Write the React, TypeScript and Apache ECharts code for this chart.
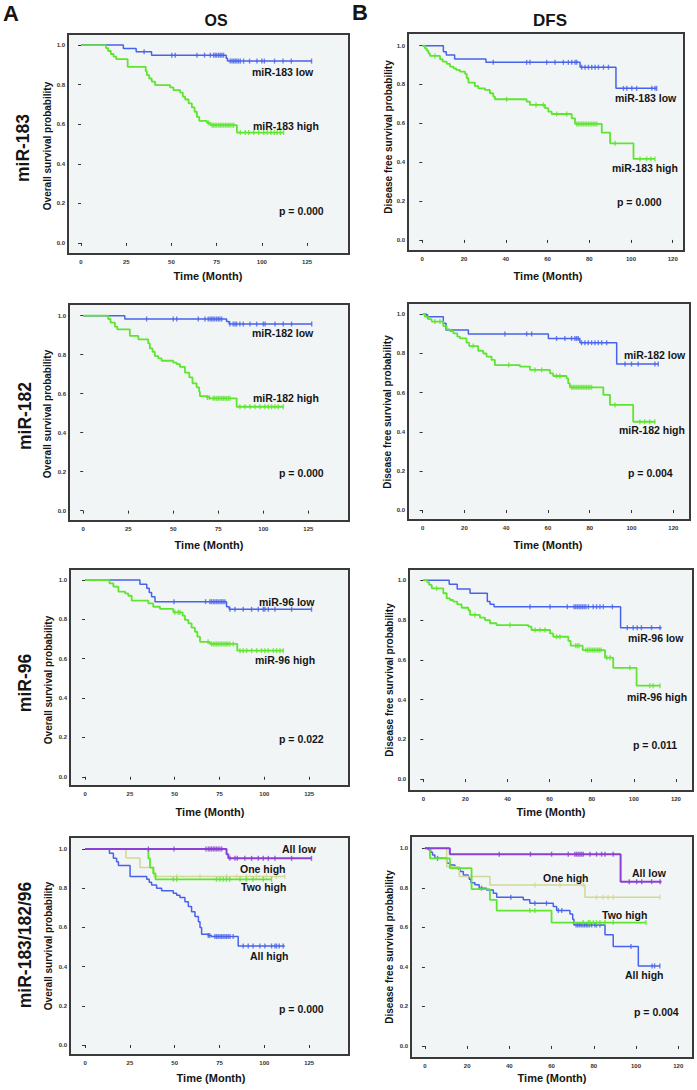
import React, { useEffect, useRef } from "react";
import * as echarts from "echarts";

// ---------- tick labels ----------
const OS_TICKS = [0, 25, 50, 75, 100, 125];
const DFS_TICKS = [0, 20, 40, 60, 80, 100, 120];
const Y_TICKS = [0, 0.2, 0.4, 0.6, 0.8, 1.0];

// ---------- A1: OS miR-183 ----------
const os183LowSteps = [[0, 1], [23.4, 0.983], [30.5, 0.966], [39.0, 0.949], [80.3, 0.934], [81.0, 0.919]];
const os183LowEnd = 127.5;
const os183LowCensor = [34.9, 50.2, 52.1, 64.1, 68.3, 71.5, 73.3, 74.2, 75.1, 76.1, 77, 77.9, 78.8, 82.5, 83.5, 84.4, 85.3, 86.2, 87.1, 88.1, 89.9, 93.2, 97.3, 100, 101.4, 107, 111.7, 116.3, 127.5];
const os183HighSteps = [[0, 1], [13.8, 0.985], [15, 0.97], [16.5, 0.955], [18, 0.942], [19.5, 0.929], [25.8, 0.89], [35.8, 0.868], [36.4, 0.848], [37.7, 0.831], [39.1, 0.815], [41, 0.798], [49.3, 0.786], [51.1, 0.772], [54.8, 0.76], [56.3, 0.739], [57.6, 0.725], [59.5, 0.705], [61.3, 0.685], [62.8, 0.663], [64.1, 0.637], [65.4, 0.617], [69.6, 0.607], [71.5, 0.595], [86.2, 0.558]];
const os183HighEnd = 112;
const os183HighCensor = [70.5, 72.5, 73.3, 74.2, 75.1, 76.1, 77, 77.9, 78.8, 79.8, 80.7, 81.6, 82.5, 83.5, 84.4, 88.1, 90.8, 92.7, 95.5, 98.2, 101, 103, 105.1, 107, 108.5, 110.2, 112];

// ---------- B1: DFS miR-183 ----------
const dfs183LowSteps = [[0, 1], [10.1, 0.969], [11.5, 0.952], [15.5, 0.931], [30.5, 0.914], [75.6, 0.889], [92.8, 0.78]];
const dfs183LowEnd = 112.3;
const dfs183LowCensor = [34, 50, 51.6, 59.6, 63.6, 67.6, 70, 71.6, 73.2, 74, 76.4, 78, 79.6, 81.2, 82.8, 84.4, 86.8, 89.2, 96.4, 98, 100.4, 102.7, 110, 111.5, 112.3];
const dfs183HighSteps = [[0, 1], [1.3, 0.986], [2.1, 0.974], [2.9, 0.96], [3.7, 0.947], [8.5, 0.93], [9.8, 0.918], [11.7, 0.906], [13.3, 0.892], [14.9, 0.883], [16.2, 0.875], [18, 0.866], [20.5, 0.855], [21.3, 0.832], [22.1, 0.81], [25.2, 0.792], [26.8, 0.78], [30, 0.772], [32.4, 0.755], [34, 0.738], [34.8, 0.724], [50, 0.712], [51.6, 0.695], [58.8, 0.678], [60.4, 0.66], [62, 0.648], [71.6, 0.626], [73.2, 0.597], [86, 0.552], [90, 0.497], [101.2, 0.417]];
const dfs183HighEnd = 111.5;
const dfs183HighCensor = [6, 40.4, 54.5, 58, 64.4, 69.2, 74, 74.8, 75.6, 76.4, 77.2, 78, 78.8, 79.6, 80.4, 81.2, 82, 82.8, 83.6, 92.4, 104.3, 107.5, 109.5, 111.5];

// ---------- A2: OS miR-182 ----------
const os182LowSteps = [[0, 1], [23.1, 0.983], [79.6, 0.97], [81, 0.957]];
const os182LowEnd = 126.9;
const os182LowCensor = [35.2, 50, 51.9, 63.9, 67.6, 69.4, 70.4, 71.3, 72.2, 73.1, 74.1, 75, 75.9, 76.9, 81.5, 83.3, 84.3, 85.2, 87, 88.9, 92.6, 96.3, 100, 101, 106.5, 111.1, 115.7, 126.9];
const os182HighSteps = [[0, 1], [13.9, 0.983], [15.2, 0.964], [17.6, 0.944], [18.9, 0.93], [25.9, 0.896], [30.6, 0.879], [36.1, 0.858], [37, 0.832], [38.5, 0.815], [39.8, 0.793], [41.7, 0.781], [43.5, 0.769], [50, 0.759], [51.9, 0.752], [53.7, 0.738], [56.5, 0.708], [58.9, 0.684], [60.7, 0.653], [63, 0.632], [64.4, 0.61], [64.8, 0.588], [68.5, 0.581], [70.4, 0.576], [85.2, 0.533]];
const os182HighEnd = 111.1;
const os182HighCensor = [68.9, 70, 72.2, 73.1, 74.1, 75, 75.9, 76.9, 77.8, 78.7, 79.6, 80.6, 81.5, 87, 89.8, 92.6, 95.4, 98.1, 100.9, 102.8, 104.6, 106.5, 108.3, 111.1];

// ---------- B2: DFS miR-182 ----------
const dfs182LowSteps = [[0, 1], [2, 0.988], [9.9, 0.954], [11.2, 0.92], [21.9, 0.9], [60.2, 0.877], [75.3, 0.855], [92.9, 0.746]];
const dfs182LowEnd = 112.8;
const dfs182LowCensor = [2.4, 39.4, 49.8, 52.2, 64.1, 68.1, 71.3, 72.9, 73.7, 74.5, 76.1, 77.7, 79.3, 80.9, 82.5, 84.1, 85.7, 88.1, 96.9, 100, 103.2, 111.2, 112.8];
const dfs182HighSteps = [[0, 1], [1.1, 0.988], [2.7, 0.976], [4.3, 0.963], [9.9, 0.94], [11.5, 0.923], [13.1, 0.915], [14.7, 0.903], [16.6, 0.886], [17.9, 0.877], [21, 0.855], [22.3, 0.838], [26.6, 0.814], [29, 0.8], [30.6, 0.784], [33, 0.767], [34.6, 0.741], [46.6, 0.733], [51.4, 0.716], [61, 0.698], [62.5, 0.685], [68.9, 0.673], [69.7, 0.647], [70.5, 0.627], [86.5, 0.588], [89.7, 0.537], [100.8, 0.451]];
const dfs182HighEnd = 111.2;
const dfs182HighCensor = [5.9, 8.3, 24.2, 41.2, 53.8, 57, 64.1, 65.7, 71.3, 72.1, 72.9, 73.7, 74.5, 75.3, 76.1, 76.9, 77.7, 78.5, 79.3, 80.1, 80.9, 92.1, 104, 106.3, 108.7, 111.2];

// ---------- A3: OS miR-96 ----------
const os96LowSteps = [[0, 1], [30.6, 0.978], [34.4, 0.958], [35.8, 0.937], [37.1, 0.915], [39, 0.89], [78.9, 0.864], [80.4, 0.851]];
const os96LowEnd = 126.3;
const os96LowCensor = [49.6, 67.2, 69.6, 70.5, 71.5, 72.4, 73.3, 74.2, 75.2, 76.1, 77, 78, 80.8, 83.6, 88.2, 92.9, 96.6, 99.4, 100.3, 102.2, 105.9, 115.2, 126.3];
const os96HighSteps = [[0, 1], [13.6, 0.983], [15.8, 0.966], [18.6, 0.941], [22.3, 0.932], [24.1, 0.92], [26, 0.895], [35.3, 0.881], [38, 0.864], [41.8, 0.853], [49.2, 0.836], [54.4, 0.819], [55.7, 0.797], [57.6, 0.78], [59.4, 0.758], [61.3, 0.737], [62.6, 0.712], [64.1, 0.686], [69.6, 0.675], [84.9, 0.641]];
const os96HighEnd = 110.5;
const os96HighCensor = [50.1, 52, 52.9, 68.6, 70.5, 71.5, 72.4, 73.3, 74.2, 75.2, 76.1, 77, 78, 78.9, 79.8, 80.8, 82.6, 86.4, 88.2, 90.1, 92.9, 95.7, 98.4, 100.3, 102.2, 105, 106.8, 108.7, 110.5];

// ---------- B3: DFS miR-96 ----------
const dfs96LowSteps = [[0, 1], [12.3, 0.98], [16.1, 0.956], [22.2, 0.935], [30.4, 0.893], [31.7, 0.88], [33.6, 0.867], [93.7, 0.762]];
const dfs96LowEnd = 113.2;
const dfs96LowCensor = [50.7, 60.2, 68.4, 71.6, 72.4, 73.2, 74, 74.8, 75.6, 76.4, 77.2, 78.4, 80.7, 82.3, 83.9, 85.5, 89.8, 96.9, 99.7, 101.6, 103.6, 108.4, 112.4];
const dfs96HighSteps = [[0, 1], [1.9, 0.99], [2.8, 0.977], [4, 0.96], [9.5, 0.935], [11.1, 0.909], [12.7, 0.901], [14.2, 0.893], [16.1, 0.879], [18.2, 0.862], [21.4, 0.849], [22.2, 0.826], [26.9, 0.812], [29.3, 0.8], [31.7, 0.784], [34.8, 0.775], [49.9, 0.767], [51.4, 0.75], [60.2, 0.733], [61.7, 0.716], [68.9, 0.695], [70, 0.671], [75.7, 0.649], [86.3, 0.611], [90.2, 0.56], [101.3, 0.47]];
const dfs96HighEnd = 112.4;
const dfs96HighCensor = [6.3, 24.5, 41.2, 53.1, 55.4, 57.8, 63.3, 64.9, 72.4, 73.2, 74, 77.2, 78, 78.8, 79.6, 80.4, 81.2, 82, 82.8, 83.6, 84.4, 87.1, 88.7, 98.1, 107.6, 109.2, 112.4];

// ---------- A4: OS miR-183/182/96 ----------
const osAllLowSteps = [[0, 1], [78.9, 0.973], [79.9, 0.952]];
const osAllLowEnd = 126.3;
const osAllLowCensor = [35.3, 49.6, 67.4, 68.7, 69.6, 70.5, 71.5, 72.4, 73.3, 74.2, 75.2, 76.2, 80.8, 83.6, 84.9, 89.1, 92.9, 96.6, 99.4, 102.2, 105.9, 115.2, 126.3];
const osOneHighSteps = [[0, 1], [22.8, 0.954], [30.6, 0.906], [38.5, 0.859]];
const osOneHighEnd = 111.4;
const osOneHighCensor = [51.1, 64.1, 78.9, 84.5, 90, 95.6, 101.1, 106.7, 111.4];
const osTwoHighSteps = [[0, 1], [35.3, 0.952], [36.2, 0.905], [38, 0.875], [39.3, 0.845]];
const osTwoHighEnd = 104;
const osTwoHighCensor = [49.2, 51.1, 73.3, 75.2, 77, 78.9, 80.7, 86.4, 90, 93.7, 99.4, 104];
const osAllHighSteps = [[0, 1], [13.6, 0.978], [15.8, 0.952], [17.6, 0.935], [18.6, 0.915], [25.1, 0.859], [34.4, 0.845], [35.8, 0.83], [37.1, 0.816], [39.9, 0.8], [42.7, 0.787], [49.2, 0.774], [51.1, 0.764], [52.9, 0.753], [55.7, 0.731], [57.6, 0.706], [59.4, 0.68], [61.3, 0.655], [63.2, 0.629], [64.1, 0.6], [65, 0.565], [68.7, 0.558], [70.5, 0.553], [85.4, 0.505]];
const osAllHighEnd = 111.4;
const osAllHighCensor = [68.7, 69.6, 72.4, 73.3, 74.2, 75.2, 76.1, 77, 78, 78.9, 79.8, 80.8, 82.6, 88.2, 91, 93.7, 97.5, 100.3, 104, 105.9, 106.8, 108.3, 110.5];

// ---------- B4: DFS miR-183/182/96 ----------
const dfsAllLowSteps = [[0, 1], [11.8, 0.97], [92.7, 0.831]];
const dfsAllLowEnd = 112.1;
const dfsAllLowCensor = [35.2, 50, 60, 67.9, 71, 71.8, 72.6, 73.4, 74.2, 75, 78.2, 81.3, 83.7, 85.3, 89.2, 96.8, 100.3, 102.7, 107.4, 111.4];
const dfsOneHighSteps = [[0, 1], [10.3, 0.907], [16.3, 0.857], [30.8, 0.814], [75.8, 0.752]];
const dfsOneHighEnd = 111.3;
const dfsOneHighCensor = [52.1, 64, 75, 81.3, 84.4, 86.8, 89.2, 111.3];
const dfsTwoHighSteps = [[0, 1], [2.4, 0.949], [11.8, 0.899], [22.1, 0.793], [30.8, 0.739], [34, 0.685], [60, 0.624]];
const dfsTwoHighEnd = 104.7;
const dfsTwoHighCensor = [49.7, 52.1, 75, 77.4, 78.2, 79.8, 81.3, 82.9, 85.3, 89.2, 104.7];
const dfsAllHighSteps = [[0, 1], [1.6, 0.992], [2.7, 0.98], [3.6, 0.966], [4.7, 0.949], [10.3, 0.924], [11.8, 0.915], [14.2, 0.907], [15.8, 0.894], [16.6, 0.882], [18.2, 0.865], [20.5, 0.857], [21, 0.843], [21.8, 0.826], [23.7, 0.815], [25.7, 0.798], [29.2, 0.789], [32.4, 0.772], [34, 0.752], [46.6, 0.739], [49.7, 0.722], [60.8, 0.705], [62.4, 0.685], [68.7, 0.668], [70, 0.641], [70.6, 0.612], [85.3, 0.562], [89.2, 0.503], [101.1, 0.405]];
const dfsAllHighEnd = 111.3;
const dfsAllHighCensor = [6, 26.8, 40.7, 52.1, 57.6, 63.2, 64.8, 71.6, 72.4, 73.2, 74, 74.8, 75.6, 76.4, 77.2, 78, 79, 80.5, 81.3, 82.9, 97.6, 107.6, 108.8, 111.3];

// ---------- styles ----------
const BLUE = "#4763ec";
const GREEN = "#5ee52f";
const PURPLE = "#8b3fd3";
const OLIVE = "#d2d896";
const TEXT = "#151515";
const FONT = '"Liberation Sans", Arial, Helvetica, sans-serif';

type Curve = { steps: number[][]; end: number; censor: number[]; color: string; width: number };

const PANELS = [
  {
    box: [68, 34, 349, 254], x: [-7.2, 148.2], y: [-0.056, 1.056], ticks: OS_TICKS,
    curves: [
      { steps: os183LowSteps, end: os183LowEnd, censor: os183LowCensor, color: BLUE, width: 1.5 },
      { steps: os183HighSteps, end: os183HighEnd, censor: os183HighCensor, color: GREEN, width: 1.8 },
    ],
    ytitle: "Overall survival probability", ytx: 47, yty: 146, xtx: 208, xty: 276,
    labels: [["miR-183 low", 252, 72], ["miR-183 high", 253, 126], ["p = 0.000", 279, 211]],
  },
  {
    box: [408, 33, 684, 251], x: [-6.85, 125.4], y: [-0.057, 1.065], ticks: DFS_TICKS,
    curves: [
      { steps: dfs183LowSteps, end: dfs183LowEnd, censor: dfs183LowCensor, color: BLUE, width: 1.5 },
      { steps: dfs183HighSteps, end: dfs183HighEnd, censor: dfs183HighCensor, color: GREEN, width: 1.8 },
    ],
    ytitle: "Disease free survival probability", ytx: 388, yty: 137, xtx: 548, xty: 276,
    labels: [["miR-183 low", 615, 98], ["miR-183 high", 612, 168], ["p = 0.000", 617, 202]],
  },
  {
    box: [69, 304, 349, 521], x: [-7.9, 147.6], y: [-0.053, 1.06], ticks: OS_TICKS,
    curves: [
      { steps: os182LowSteps, end: os182LowEnd, censor: os182LowCensor, color: BLUE, width: 1.5 },
      { steps: os182HighSteps, end: os182HighEnd, censor: os182HighCensor, color: GREEN, width: 1.8 },
    ],
    ytitle: "Overall survival probability", ytx: 47, yty: 414, xtx: 209, xty: 545,
    labels: [["miR-182 low", 252, 333], ["miR-182 high", 253, 398], ["p = 0.000", 279, 473]],
  },
  {
    box: [408, 303, 690, 520], x: [-7.0, 128], y: [-0.051, 1.058], ticks: DFS_TICKS,
    curves: [
      { steps: dfs182LowSteps, end: dfs182LowEnd, censor: dfs182LowCensor, color: BLUE, width: 1.5 },
      { steps: dfs182HighSteps, end: dfs182HighEnd, censor: dfs182HighCensor, color: GREEN, width: 1.8 },
    ],
    ytitle: "Disease free survival probability", ytx: 387, yty: 412, xtx: 548, xty: 545,
    labels: [["miR-182 low", 624, 355], ["miR-182 high", 619, 430], ["p = 0.004", 628, 473]],
  },
  {
    box: [70, 569, 349, 786], x: [-8.4, 147.2], y: [-0.047, 1.056], ticks: OS_TICKS,
    curves: [
      { steps: os96LowSteps, end: os96LowEnd, censor: os96LowCensor, color: BLUE, width: 1.5 },
      { steps: os96HighSteps, end: os96HighEnd, censor: os96HighCensor, color: GREEN, width: 1.8 },
    ],
    ytitle: "Overall survival probability", ytx: 48, yty: 680, xtx: 210, xty: 812,
    labels: [["miR-96 low", 259, 602], ["miR-96 high", 255, 660], ["p = 0.022", 279, 739]],
  },
  {
    box: [409, 569, 693, 791], x: [-6.8, 128.1], y: [-0.06, 1.057], ticks: DFS_TICKS,
    curves: [
      { steps: dfs96LowSteps, end: dfs96LowEnd, censor: dfs96LowCensor, color: BLUE, width: 1.5 },
      { steps: dfs96HighSteps, end: dfs96HighEnd, censor: dfs96HighCensor, color: GREEN, width: 1.8 },
    ],
    ytitle: "Disease free survival probability", ytx: 389, yty: 680, xtx: 551, xty: 812,
    labels: [["miR-96 low", 628, 638], ["miR-96 high", 627, 697], ["p = 0.011", 633, 745]],
  },
  {
    box: [70, 837, 349, 1055], x: [-8.4, 147.2], y: [-0.051, 1.061], ticks: OS_TICKS,
    curves: [
      { steps: osAllHighSteps, end: osAllHighEnd, censor: osAllHighCensor, color: BLUE, width: 1.5 },
      { steps: osOneHighSteps, end: osOneHighEnd, censor: osOneHighCensor, color: OLIVE, width: 1.5 },
      { steps: osTwoHighSteps, end: osTwoHighEnd, censor: osTwoHighCensor, color: GREEN, width: 1.8 },
      { steps: osAllLowSteps, end: osAllLowEnd, censor: osAllLowCensor, color: PURPLE, width: 2 },
    ],
    ytitle: "Overall survival probability", ytx: 48, yty: 946, xtx: 211, xty: 1078,
    labels: [["All low", 282, 849], ["One high", 240, 869], ["Two high", 241, 887], ["All high", 250, 956], ["p = 0.000", 279, 1009]],
  },
  {
    box: [411, 836, 693, 1058], x: [-6.6, 127], y: [-0.061, 1.062], ticks: DFS_TICKS,
    curves: [
      { steps: dfsAllHighSteps, end: dfsAllHighEnd, censor: dfsAllHighCensor, color: BLUE, width: 1.5 },
      { steps: dfsOneHighSteps, end: dfsOneHighEnd, censor: dfsOneHighCensor, color: OLIVE, width: 1.5 },
      { steps: dfsTwoHighSteps, end: dfsTwoHighEnd, censor: dfsTwoHighCensor, color: GREEN, width: 1.8 },
      { steps: dfsAllLowSteps, end: dfsAllLowEnd, censor: dfsAllLowCensor, color: PURPLE, width: 2 },
    ],
    ytitle: "Disease free survival probability", ytx: 389, yty: 947, xtx: 552, xty: 1078,
    labels: [["All low", 632, 873], ["One high", 543, 878], ["Two high", 602, 915], ["All high", 625, 975], ["p = 0.004", 634, 1012]],
  },
];

const ROW_LABELS: [string, number, number][] = [
  ["miR-183", 23, 148],
  ["miR-182", 25, 416],
  ["miR-96", 25, 683],
  ["miR-183/182/96", 25, 945],
];

function levelAt(steps: number[][], t: number) {
  let s = steps[0][1];
  for (const [ti, si] of steps) if (ti <= t) s = si;
  return s;
}

function txt(text: string, x: number, y: number, size: number, align = "left", rotation = 0) {
  return {
    type: "text",
    x,
    y,
    rotation,
    z: 100,
    style: {
      text,
      fill: TEXT,
      fontSize: size,
      fontWeight: "bold",
      fontFamily: FONT,
      align,
      verticalAlign: "middle",
    },
  };
}

export default function App() {
  const ref = useRef<HTMLDivElement>(null);
  useEffect(() => {
    if (!ref.current) return;
    const chart = echarts.init(ref.current, undefined, { renderer: "svg" });
    const grid: any[] = [];
    const xAxis: any[] = [];
    const yAxis: any[] = [];
    const series: any[] = [];
    const graphic: any[] = [];

    PANELS.forEach((p, i) => {
      const [l, t, r, b] = p.box;
      grid.push({
        left: l, top: t, width: r - l, height: b - t, show: true,
        backgroundColor: "#f2f5f5", borderColor: "#3a3a3a", borderWidth: 2,
      });
      xAxis.push({
        type: "value", gridIndex: i, min: p.x[0], max: p.x[1],
        axisLine: { show: false }, splitLine: { show: false },
        axisTick: { show: true, customValues: p.ticks, length: 3, lineStyle: { color: "#333", width: 1 } },
        axisLabel: { customValues: p.ticks, fontSize: 6, fontWeight: "bold", color: "#333", margin: 5, fontFamily: FONT },
      });
      yAxis.push({
        type: "value", gridIndex: i, min: p.y[0], max: p.y[1],
        axisLine: { show: false }, splitLine: { show: false },
        axisTick: { show: true, customValues: Y_TICKS, length: 3, lineStyle: { color: "#333", width: 1 } },
        axisLabel: {
          customValues: Y_TICKS, fontSize: 6, fontWeight: "bold", color: "#333", margin: 3, fontFamily: FONT,
          formatter: (v: number) => v.toFixed(1),
        },
      });
      (p.curves as Curve[]).forEach((c, k) => {
        const last = c.steps[c.steps.length - 1][1];
        series.push({
          type: "line", xAxisIndex: i, yAxisIndex: i, step: "end", symbol: "none", showSymbol: false,
          data: [...c.steps, [c.end, last]],
          lineStyle: { color: c.color, width: c.width }, itemStyle: { color: c.color },
          z: 2 + k, silent: true,
        });
        series.push({
          type: "scatter", xAxisIndex: i, yAxisIndex: i, symbol: "rect", symbolSize: [1.4, 5],
          data: c.censor.map((tt) => [tt, levelAt(c.steps, tt)]),
          itemStyle: { color: c.color }, z: 2 + k, silent: true,
        });
      });
      graphic.push(txt("Time (Month)", p.xtx, p.xty, 11, "center"));
      graphic.push(txt(p.ytitle, p.ytx, p.yty, 10, "center", Math.PI / 2));
      (p.labels as [string, number, number][]).forEach(([s, x, y]) => graphic.push(txt(s, x, y, 10.5)));
    });

    ROW_LABELS.forEach(([s, x, y]) => graphic.push(txt(s, x, y, 17.5, "center", Math.PI / 2)));
    graphic.push(txt("A", 3, 13, 22));
    graphic.push(txt("B", 352, 12, 22));
    graphic.push(txt("OS", 216, 20, 16, "center"));
    graphic.push(txt("DFS", 550, 20, 17, "center"));

    chart.setOption({
      animation: false,
      backgroundColor: "#ffffff",
      grid, xAxis, yAxis, series, graphic,
    });
    return () => chart.dispose();
  }, []);
  return <div ref={ref} style={{ position: "absolute", left: 0, top: 0, width: 697, height: 1090 }} />;
}
